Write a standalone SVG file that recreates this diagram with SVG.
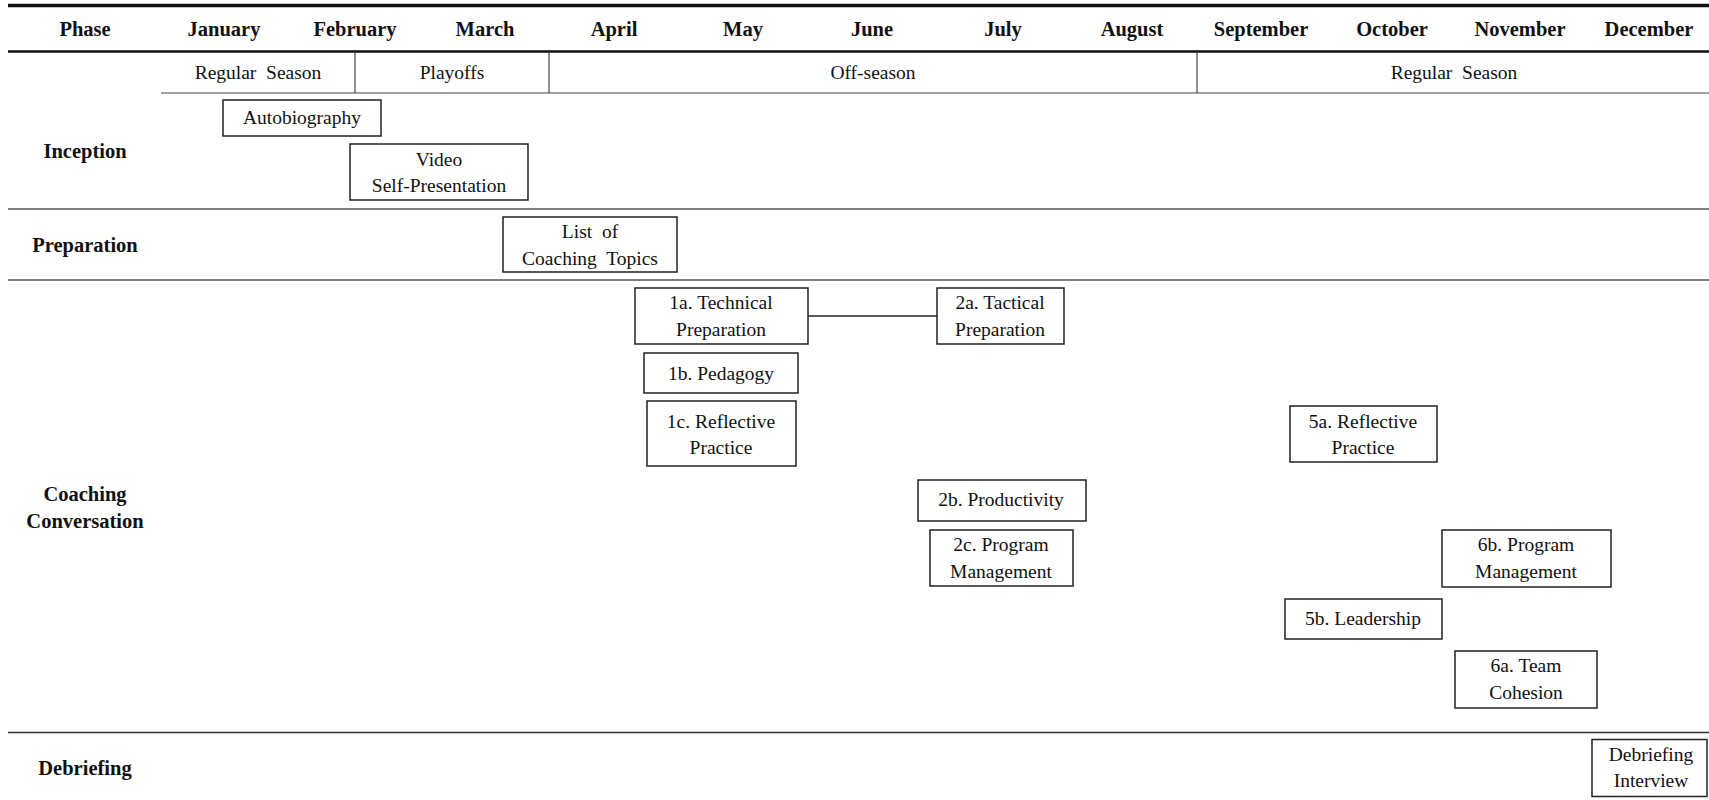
<svg xmlns="http://www.w3.org/2000/svg" width="1709" height="800" viewBox="0 0 1709 800">
<style>
.hd{font-family:"Liberation Serif","Times New Roman",serif;font-weight:bold;font-size:20.5px;fill:#111;text-anchor:middle}
.ph{font-family:"Liberation Serif","Times New Roman",serif;font-weight:bold;font-size:20.5px;fill:#111;text-anchor:middle}
.t{font-family:"Liberation Serif","Times New Roman",serif;font-size:19.5px;fill:#111;text-anchor:middle;white-space:pre}
.box{fill:#fff;stroke:#222;stroke-width:1.5}
.sec{stroke:#555;stroke-width:1.6}
.thin{stroke:#444;stroke-width:1.2}
</style>
<rect width="1709" height="800" fill="#fff"/>
<g id="table">
<line x1="8" y1="5.5" x2="1709" y2="5.5" stroke="#111" stroke-width="3.5"/>
<line x1="8" y1="51.5" x2="1709" y2="51.5" stroke="#111" stroke-width="2.5"/>
<line x1="161" y1="93" x2="1709" y2="93" class="thin"/>
<line x1="355" y1="52" x2="355" y2="93" class="thin"/>
<line x1="549" y1="52" x2="549" y2="93" class="thin"/>
<line x1="1197" y1="52" x2="1197" y2="93" class="thin"/>
<line x1="8" y1="209" x2="1709" y2="209" class="sec"/>
<line x1="8" y1="280" x2="1709" y2="280" class="sec"/>
<line x1="8" y1="732.5" x2="1709" y2="732.5" stroke="#333" stroke-width="1.6"/>
</g>
<g id="header">
<text class="hd" x="85" y="36">Phase</text>
<text class="hd" x="224" y="36">January</text>
<text class="hd" x="355" y="36">February</text>
<text class="hd" x="485" y="36">March</text>
<text class="hd" x="614" y="36">April</text>
<text class="hd" x="743" y="36">May</text>
<text class="hd" x="872" y="36">June</text>
<text class="hd" x="1003" y="36">July</text>
<text class="hd" x="1132" y="36">August</text>
<text class="hd" x="1261" y="36">September</text>
<text class="hd" x="1392" y="36">October</text>
<text class="hd" x="1520" y="36">November</text>
<text class="hd" x="1649" y="36">December</text>
</g>
<g id="seasons">
<text class="t" x="258" y="79">Regular  Season</text>
<text class="t" x="452" y="79">Playoffs</text>
<text class="t" x="873" y="79">Off-season</text>
<text class="t" x="1454" y="79">Regular  Season</text>
</g>
<g id="phases">
<text class="ph" x="85" y="158">Inception</text>
<text class="ph" x="85" y="252">Preparation</text>
<text class="ph" x="85" y="501">Coaching</text>
<text class="ph" x="85" y="528">Conversation</text>
<text class="ph" x="85" y="775">Debriefing</text>
</g>
<g id="connectors">
<line x1="808" y1="316" x2="937" y2="316" stroke="#222" stroke-width="1.5"/>
</g>
<g id="autobiography"><rect class="box" x="223" y="100" width="158" height="36"/><text class="t" x="302" y="124">Autobiography</text></g>
<g id="video"><rect class="box" x="350" y="144" width="178" height="56"/><text class="t" x="439" y="166">Video</text><text class="t" x="439" y="192">Self-Presentation</text></g>
<g id="list"><rect class="box" x="503" y="217" width="174" height="55"/><text class="t" x="590" y="238">List  of</text><text class="t" x="590" y="265">Coaching  Topics</text></g>
<g id="n1a"><rect class="box" x="635" y="288" width="173" height="56"/><text class="t" x="721" y="309">1a. Technical</text><text class="t" x="721" y="336">Preparation</text></g>
<g id="n2a"><rect class="box" x="937" y="288" width="127" height="56"/><text class="t" x="1000" y="309">2a. Tactical</text><text class="t" x="1000" y="336">Preparation</text></g>
<g id="n1b"><rect class="box" x="644" y="353" width="154" height="40"/><text class="t" x="721" y="380">1b. Pedagogy</text></g>
<g id="n1c"><rect class="box" x="647" y="401" width="149" height="65"/><text class="t" x="721" y="428">1c. Reflective</text><text class="t" x="721" y="454">Practice</text></g>
<g id="n5a"><rect class="box" x="1290" y="406" width="147" height="56"/><text class="t" x="1363" y="428">5a. Reflective</text><text class="t" x="1363" y="454">Practice</text></g>
<g id="n2b"><rect class="box" x="918" y="480" width="168" height="41"/><text class="t" x="1001" y="506">2b. Productivity</text></g>
<g id="n2c"><rect class="box" x="930" y="530" width="143" height="56"/><text class="t" x="1001" y="551">2c. Program</text><text class="t" x="1001" y="578">Management</text></g>
<g id="n6b"><rect class="box" x="1442" y="530" width="169" height="57"/><text class="t" x="1526" y="551">6b. Program</text><text class="t" x="1526" y="578">Management</text></g>
<g id="n5b"><rect class="box" x="1285" y="599" width="157" height="40"/><text class="t" x="1363" y="625">5b. Leadership</text></g>
<g id="n6a"><rect class="box" x="1455" y="651" width="142" height="57"/><text class="t" x="1526" y="672">6a. Team</text><text class="t" x="1526" y="699">Cohesion</text></g>
<g id="debrief"><rect class="box" x="1592" y="739.5" width="115" height="57"/><text class="t" x="1651" y="761">Debriefing</text><text class="t" x="1651" y="787">Interview</text></g>
</svg>
